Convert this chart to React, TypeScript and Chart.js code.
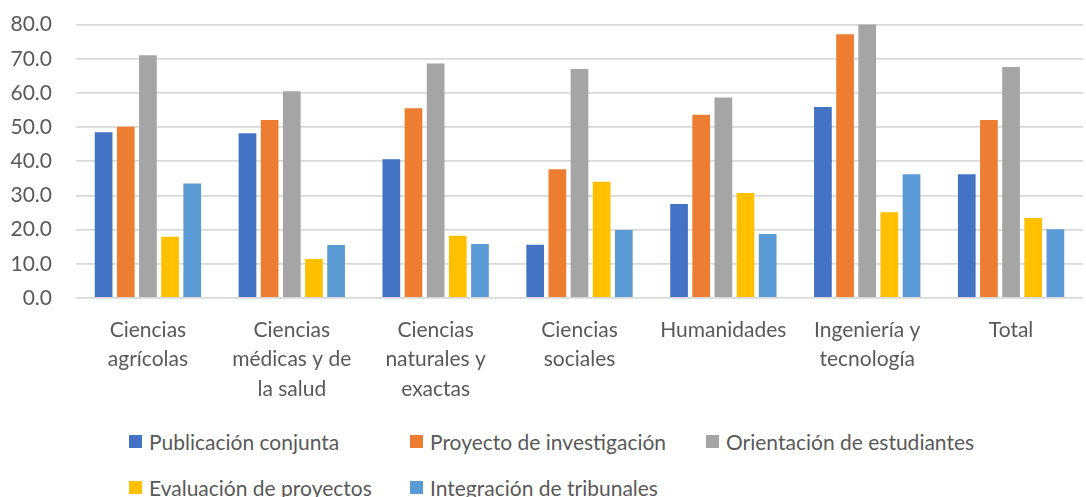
import React, { useEffect, useRef } from "react";
import { Chart, registerables } from "chart.js";

Chart.register(...registerables);

const categories: string[][] = [
  ["Ciencias", "agrícolas"],
  ["Ciencias", "médicas y de", "la salud"],
  ["Ciencias", "naturales y", "exactas"],
  ["Ciencias", "sociales"],
  ["Humanidades"],
  ["Ingeniería y", "tecnología"],
  ["Total"],
];

const seriesNames = [
  "Publicación conjunta",
  "Proyecto de investigación",
  "Orientación de estudiantes",
  "Evaluación de proyectos",
  "Integración de tribunales",
];

const publicacion = [48.5, 48.2, 40.6, 15.6, 27.5, 55.9, 36.2];
const proyecto = [50.1, 52.1, 55.5, 37.7, 53.6, 77.2, 52.1];
const orientacion = [71.0, 60.5, 68.6, 67.0, 58.7, 80.3, 67.6];
const evaluacion = [17.9, 11.4, 18.2, 34.0, 30.7, 25.1, 23.4];
const tribunales = [33.5, 15.5, 15.8, 19.9, 18.7, 36.2, 20.1];

const seriesValues = [publicacion, proyecto, orientacion, evaluacion, tribunales];
const colors = ["#4472C4", "#ED7D31", "#A5A5A5", "#FFC000", "#5B9BD5"];

const FONT = "Lato, 'Open Sans', sans-serif";
const TEXT = "#595959";

const legendCols = [129, 410, 706];
const legendRows = [441, 487];

export default function App() {
  const ref = useRef<HTMLCanvasElement>(null);
  useEffect(() => {
    const ctx = ref.current!;
    const chart = new Chart(ctx, {
      type: "bar",
      data: {
        labels: categories,
        datasets: seriesNames.map((name, i) => ({
          label: name,
          data: seriesValues[i],
          backgroundColor: colors[i],
          barPercentage: 0.8,
          categoryPercentage: 0.77,
        })),
      },
      options: {
        animation: false,
        responsive: false,
        maintainAspectRatio: false,
        layout: { padding: { top: 12, right: 3, left: 0, bottom: 0 } },
        plugins: { legend: { display: false }, tooltip: { enabled: false } },
        scales: {
          x: {
            grid: { display: false, drawTicks: false },
            border: { display: false },
            ticks: {
              color: TEXT,
              font: { family: FONT, size: 21, lineHeight: 1.42 },
              padding: 17,
              maxRotation: 0,
              autoSkip: false,
            },
            afterFit: (s: any) => {
              s.height = 106;
            },
          },
          y: {
            min: 0,
            max: 80,
            grid: { color: "#d9d9d9", lineWidth: 1.8, drawTicks: false },
            border: { display: false },
            ticks: {
              stepSize: 10,
              color: TEXT,
              font: { family: FONT, size: 21 },
              padding: 24,
              callback: (v: any) => Number(v).toFixed(1),
            },
            afterFit: (s: any) => {
              s.width = 76;
            },
          },
        },
      },
    });
    return () => chart.destroy();
  }, []);

  return (
    <div style={{ position: "absolute", left: 0, top: 0, width: 1086, height: 497, background: "#fff", overflow: "hidden" }}>
      <canvas ref={ref} width={1086} height={416} style={{ position: "absolute", left: 0, top: -12 }} />
      {seriesNames.map((name, i) => {
        const col = i % 3;
        const row = Math.floor(i / 3);
        return (
          <div
            key={name}
            style={{
              position: "absolute",
              left: legendCols[col],
              top: legendRows[row] - 14,
              height: 28,
              display: "flex",
              alignItems: "center",
              fontFamily: FONT,
              fontSize: 21,
              color: TEXT,
              whiteSpace: "nowrap",
            }}
          >
            <span style={{ width: 13, height: 13, background: colors[i], display: "inline-block", marginRight: 7 }} />
            <span>{name}</span>
          </div>
        );
      })}
    </div>
  );
}
